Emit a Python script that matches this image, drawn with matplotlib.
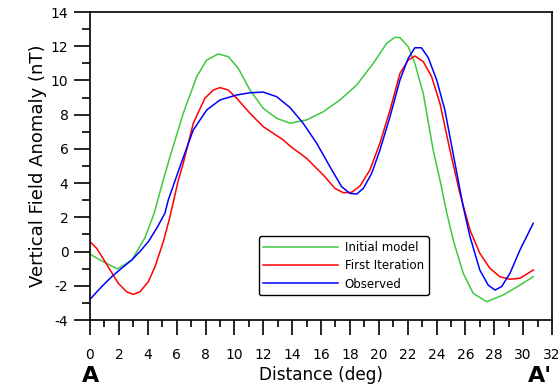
import numpy as np
import matplotlib
matplotlib.use('Agg')
import matplotlib.pyplot as plt
from matplotlib.ticker import MultipleLocator

plt.rcParams['axes.unicode_minus'] = False

# values
init_x = [0, 0.69, 1.9, 2.9, 3.8, 4.43, 5.08, 5.54, 6.46, 7.39, 8.08, 8.89, 9.58, 10.27,
          11.08, 12.0, 12.93, 13.85, 15.0, 16.16, 17.31, 18.47, 19.62, 20.55, 21.12,
          21.47, 22.04, 22.5, 23.08, 23.77, 24.24, 24.7, 25.16, 25.85, 26.54, 27.47,
          28.62, 29.78, 30.7]
init_y = [-0.15, -0.49, -1.02, -0.5, 0.8, 2.2, 4.2, 5.54, 8.08, 10.22, 11.19, 11.55,
          11.39, 10.71, 9.44, 8.37, 7.79, 7.5, 7.69, 8.17, 8.86, 9.73, 11.0, 12.17,
          12.52, 12.5, 11.97, 11.0, 9.25, 5.93, 4.18, 2.3, 0.67, -1.27, -2.44, -2.93,
          -2.54, -1.96, -1.47]

first_x = [0, 0.46, 1.04, 1.96, 2.54, 3.0, 3.46, 4.04, 4.5, 5.08, 5.54, 6.12, 6.46, 7.15,
           7.96, 8.54, 9.0, 9.58, 10.16, 11.08, 12.0, 13.39, 13.85, 14.54, 15.0, 16.16,
           16.97, 17.54, 18.12, 18.7, 19.39, 20.08, 20.78, 21.47, 22.04, 22.5, 23.08,
           23.66, 24.24, 24.93, 25.62, 26.32, 27.0, 27.7, 28.39, 29.09, 29.78, 30.7]
first_y = [0.58, 0.19, -0.59, -1.86, -2.35, -2.5, -2.35, -1.76, -0.89, 0.58, 2.04, 4.18,
           5.16, 7.49, 8.96, 9.44, 9.58, 9.44, 8.96, 8.08, 7.30, 6.52, 6.17, 5.74, 5.45,
           4.47, 3.69, 3.44, 3.46, 3.83, 4.77, 6.33, 8.27, 10.41, 11.19, 11.43, 11.1,
           10.22, 8.66, 5.93, 3.4, 1.26, -0.1, -0.98, -1.47, -1.62, -1.56, -1.08]

obs_x = [0, 0.81, 1.5, 2.19, 2.89, 3.46, 4.04, 4.62, 5.19, 5.42, 6.23, 7.15, 8.08, 9.0,
         10.16, 11.08, 12.0, 12.93, 13.85, 14.77, 15.7, 16.62, 17.43, 18.0, 18.47, 18.93,
         19.51, 20.08, 20.78, 21.47, 22.04, 22.5, 22.96, 23.43, 24.01, 24.58, 24.93, 25.5,
         25.85, 26.32, 27.0, 27.58, 28.05, 28.51, 29.09, 29.78, 30.7]
obs_y = [-2.79, -2.05, -1.47, -0.98, -0.49, 0.0, 0.58, 1.36, 2.24, 3.01, 4.96, 7.1, 8.27,
         8.86, 9.15, 9.28, 9.32, 9.05, 8.42, 7.49, 6.33, 4.96, 3.79, 3.40, 3.36, 3.69,
         4.57, 5.93, 7.88, 10.03, 11.29, 11.91, 11.91, 11.33, 10.03, 8.27, 6.71, 4.18,
         2.62, 0.87, -1.08, -1.96, -2.25, -2.05, -1.27, 0.09, 1.65]

fig = plt.figure(figsize=(5.6, 3.91), dpi=100)
ax = fig.add_axes([90/560, 1-320/391, 462/560, 308/391])

ax.plot(init_x, init_y, color='#40c840', lw=1.1, label='Initial model')
ax.plot(first_x, first_y, color='#ff0000', lw=1.1, label='First Iteration')
ax.plot(obs_x, obs_y, color='#0000ff', lw=1.1, label='Observed')

ax.set_xlim(0, 32)
ax.set_ylim(-4, 14)
ax.xaxis.set_major_locator(MultipleLocator(2))
ax.xaxis.set_minor_locator(MultipleLocator(1))
ax.yaxis.set_major_locator(MultipleLocator(2))
ax.yaxis.set_minor_locator(MultipleLocator(1))
ax.tick_params(axis='x', which='major', length=11, width=1.2, pad=9, labelsize=10)
ax.tick_params(axis='x', which='minor', length=5.3, width=1.2)
ax.tick_params(axis='y', which='major', length=11.5, width=1.2, pad=4, labelsize=10)
ax.tick_params(axis='y', which='minor', length=6, width=1.2)
for s in ax.spines.values():
    s.set_linewidth(1.2)

ax.set_xlabel('Distance (deg)', fontsize=12.2, labelpad=3)
ax.set_ylabel('Vertical Field Anomaly (nT)', fontsize=13, labelpad=3)

leg = ax.legend(loc='upper left', bbox_to_anchor=(0.365, 0.272), fontsize=8.5,
                handlelength=6.3, handletextpad=0.6, labelspacing=0.45,
                frameon=True, fancybox=True, borderpad=0.4, borderaxespad=0)
leg.get_frame().set_edgecolor('black')
leg.get_frame().set_linewidth(1.0)
leg.get_frame().set_alpha(1)

fig.text(82/560, 1-376/391, 'A', fontsize=16, fontweight='bold', va='center', ha='left')
fig.text(528/560, 1-376/391, "A'", fontsize=16, fontweight='bold', va='center', ha='left')

plt.savefig('out.png', dpi=100)
